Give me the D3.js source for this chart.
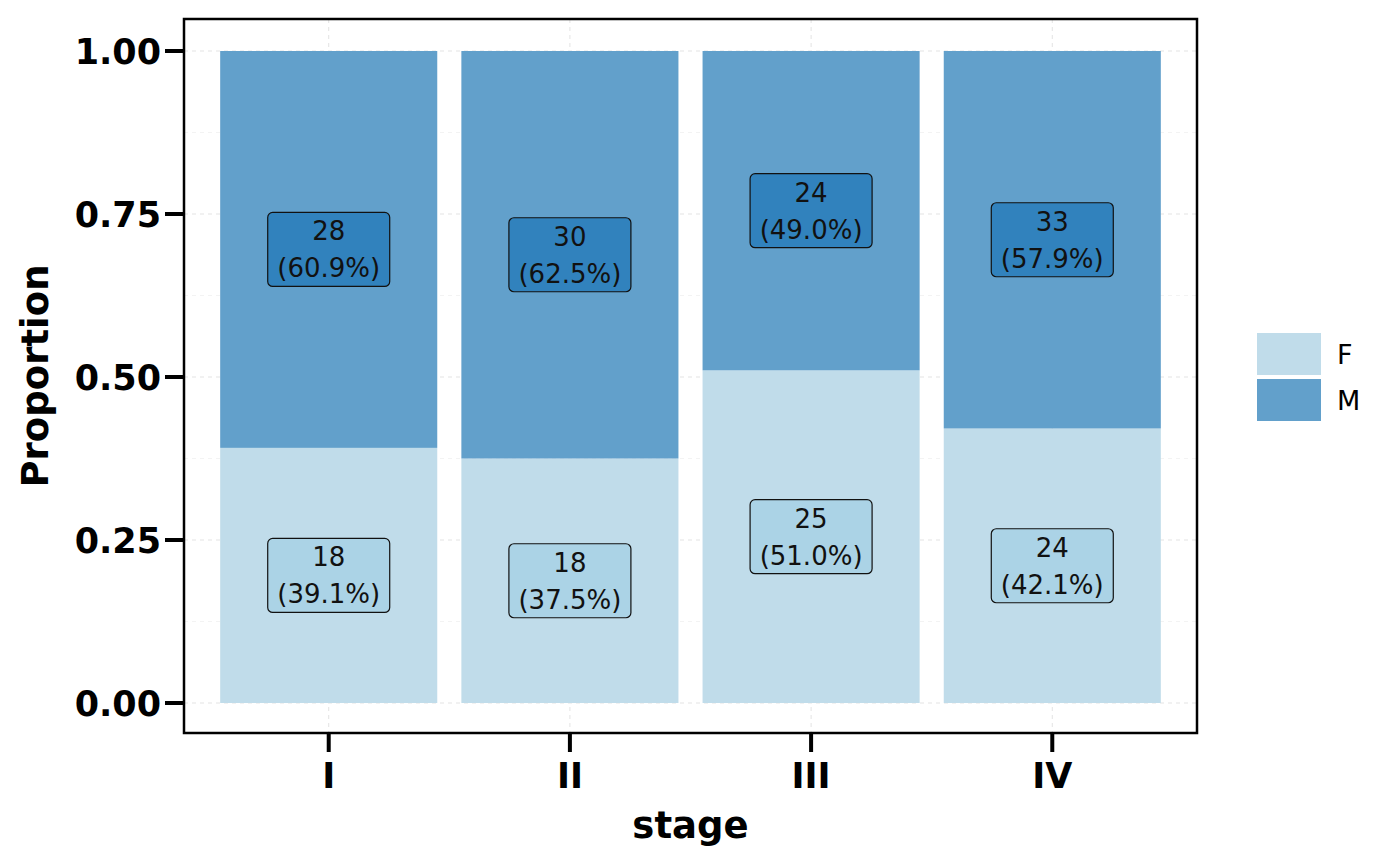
<!DOCTYPE html>
<html><head><meta charset="utf-8">
<script src="https://cdn.jsdelivr.net/npm/d3@7"></script>
<style>body{margin:0;background:#fff}</style>
</head><body>
<svg id="c" width="1400" height="866"></svg>
<script>
const stages = ["I","II","III","IV"];
const groups = ["F","M"];
const countF = [18,18,25,24];
const countM = [28,30,24,33];
const yTicks = [0,0.25,0.5,0.75,1];
const yTickLabels = ["0.00","0.25","0.50","0.75","1.00"];
const barColors = {F:"#c0dcea", M:"#62a0cb"};
const labelColors = {F:"#abd3e6", M:"#3182bd"};

const svg = d3.select("#c");
const P = {l:184, r:1197, t:19, b:733};
const font = "DejaVu Sans, sans-serif";

const x = d3.scaleBand().domain(stages).range([P.l, P.r]).paddingInner(0).paddingOuter(0.1);
const step = x.step();
const barW = step*0.9;
const y = d3.scaleLinear().domain([0,1]).range([703,51]);

// grid
const g = svg.append("g");
const minor = [0.125,0.375,0.625,0.875];
minor.forEach(v=>g.append("line").attr("x1",P.l).attr("x2",P.r).attr("y1",y(v)).attr("y2",y(v)).attr("stroke","#ebebeb").attr("stroke-width",0.6).attr("stroke-dasharray","4,4"));
yTicks.forEach(v=>g.append("line").attr("x1",P.l).attr("x2",P.r).attr("y1",y(v)).attr("y2",y(v)).attr("stroke","#e3e3e3").attr("stroke-width",1).attr("stroke-dasharray","4,4"));
stages.forEach(s=>g.append("line").attr("x1",x(s)+step/2).attr("x2",x(s)+step/2).attr("y1",P.t).attr("y2",P.b).attr("stroke","#e3e3e3").attr("stroke-width",1).attr("stroke-dasharray","4,4"));

// data
const rows = stages.map((s,i)=>{
  const tot = countF[i]+countM[i];
  return {s, F:countF[i], M:countM[i], pF:countF[i]/tot, pM:countM[i]/tot};
});
const bars = svg.append("g");
rows.forEach(r=>{
  const cx = x(r.s)+step/2;
  bars.append("rect").attr("x",cx-barW/2).attr("width",barW).attr("y",y(r.pF)).attr("height",y(0)-y(r.pF)).attr("fill",barColors.F);
  bars.append("rect").attr("x",cx-barW/2).attr("width",barW).attr("y",y(1)).attr("height",y(r.pF)-y(1)).attr("fill",barColors.M);
});
// labels
const lab = svg.append("g");
rows.forEach(r=>{
  const cx = x(r.s)+step/2;
  [["F",r.pF/2,r.F,r.pF],["M",r.pF+r.pM/2,r.M,r.pM]].forEach(([k,mid,n,p])=>{
    const cy = y(mid);
    lab.append("rect").attr("x",cx-61).attr("y",cy-37).attr("width",122).attr("height",74).attr("rx",5).attr("ry",5)
      .attr("fill",labelColors[k]).attr("stroke","#111").attr("stroke-width",1.2);
    lab.append("text").attr("x",cx).attr("y",cy-9).attr("text-anchor","middle").attr("font-family",font).attr("font-size",26).attr("fill","#111").text(n);
    lab.append("text").attr("x",cx).attr("y",cy+28).attr("text-anchor","middle").attr("font-family",font).attr("font-size",26).attr("fill","#111").text("("+(p*100).toFixed(1)+"%)");
  });
});

// panel border
svg.append("rect").attr("x",P.l).attr("y",P.t).attr("width",P.r-P.l).attr("height",P.b-P.t).attr("fill","none").attr("stroke","#000").attr("stroke-width",2.5);

// y axis
const ya = svg.append("g");
yTicks.forEach((v,i)=>{
  ya.append("line").attr("x1",165).attr("x2",P.l).attr("y1",y(v)).attr("y2",y(v)).attr("stroke","#000").attr("stroke-width",4);
  ya.append("text").attr("x",161).attr("y",y(v)).attr("dy","0.36em").attr("text-anchor","end").attr("font-family",font).attr("font-weight","bold").attr("font-size",35).attr("fill","#000").text(yTickLabels[i]);
});
// x axis
const xa = svg.append("g");
stages.forEach(s=>{
  const cx = x(s)+step/2;
  xa.append("line").attr("x1",cx).attr("x2",cx).attr("y1",P.b).attr("y2",752).attr("stroke","#000").attr("stroke-width",4);
  xa.append("text").attr("x",cx).attr("y",788).attr("text-anchor","middle").attr("font-family",font).attr("font-weight","bold").attr("font-size",35).attr("fill","#000").text(s);
});
// titles
svg.append("text").attr("x",(P.l+P.r)/2).attr("y",838).attr("text-anchor","middle").attr("font-family",font).attr("font-weight","bold").attr("font-size",37).text("stage");
svg.append("text").attr("transform","translate(48,376) rotate(-90)").attr("text-anchor","middle").attr("font-family",font).attr("font-weight","bold").attr("font-size",37).text("Proportion");

// legend
const lg = svg.append("g");
groups.forEach((k,i)=>{
  const ty = 333 + i*46;
  lg.append("rect").attr("x",1257).attr("y",ty).attr("width",64).attr("height",42).attr("fill",barColors[k]);
  lg.append("text").attr("x",1337).attr("y",ty+21).attr("dy","0.36em").attr("font-family",font).attr("font-size",27).attr("fill","#000").text(k);
});
</script>
</body></html>
